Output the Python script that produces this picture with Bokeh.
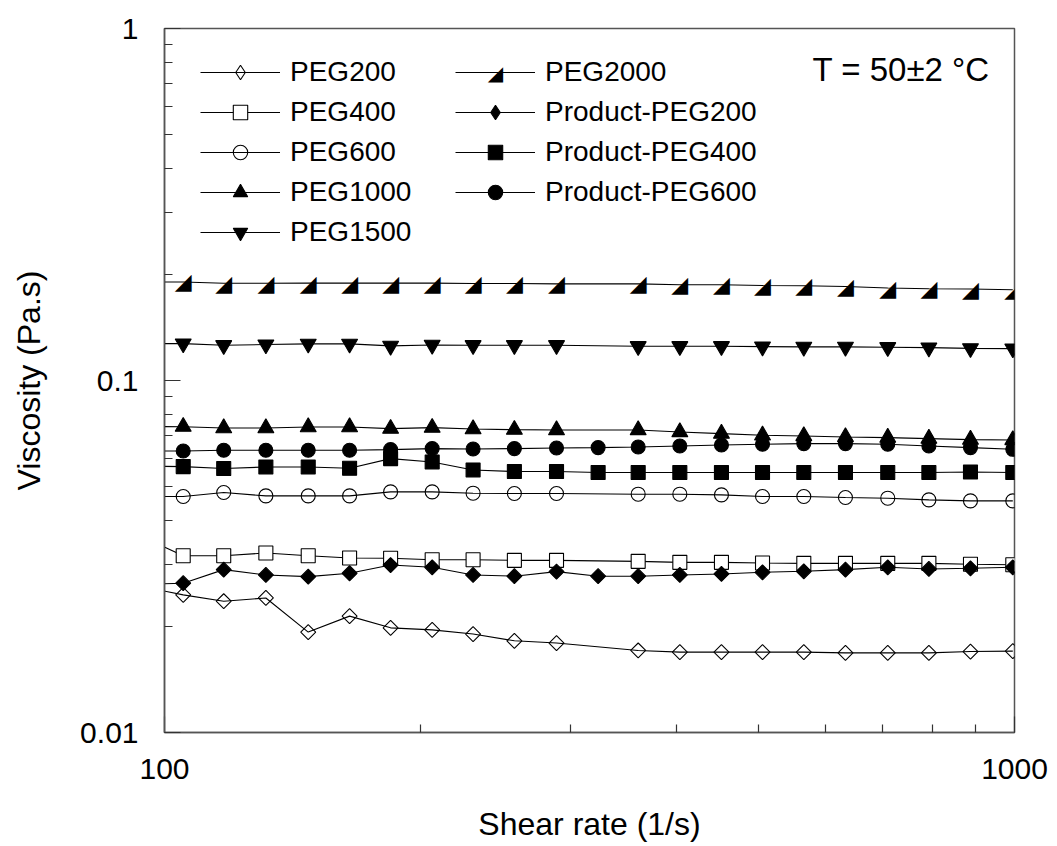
from bokeh.plotting import figure
from bokeh.models import (Range1d, FixedTicker, CustomJSTickFormatter, Legend, LegendItem,
                          Label, ColumnDataSource, CDSView, IndexFilter)
from bokeh.core.properties import value
from bokeh.embed import file_html
from bokeh.resources import INLINE
import numpy as np

# ---------------- data ----------------
shear_peg = [94.0, 105.2, 117.4, 131.6, 147.6, 165.1, 184.5, 206.5, 230.7, 258.0, 289.2,
             360.8, 403.9, 452.1, 505.3, 565.1, 632.6, 709.4, 793.0, 887.6, 995.4]
shear_product = [94.0, 105.2, 117.4, 131.6, 147.6, 165.1, 184.5, 206.5, 230.7, 258.0, 289.2,
                 323.7, 360.8, 403.9, 452.1, 505.3, 565.1, 632.6, 709.4, 793.0, 887.6, 995.4]

peg200 = [0.0260, 0.02460, 0.02360, 0.02411, 0.01929, 0.02141, 0.01983, 0.01957, 0.01904, 0.01822, 0.01795,
          0.01710, 0.01692, 0.01692, 0.01692, 0.01692, 0.01684, 0.01684, 0.01684, 0.01698, 0.01703]
peg400 = [0.03598, 0.03179, 0.03179, 0.03236, 0.03179, 0.03131, 0.03125, 0.03097, 0.03097, 0.03084, 0.03084,
          0.03064, 0.03044, 0.03044, 0.03030, 0.03024, 0.03024, 0.03024, 0.03024, 0.03005, 0.02997]
peg600 = [0.04682, 0.04682, 0.04806, 0.04701, 0.04701, 0.04701, 0.04825, 0.04825, 0.04785, 0.04775, 0.04775,
          0.04754, 0.04754, 0.04732, 0.04682, 0.04682, 0.04652, 0.04631, 0.04580, 0.04550, 0.04550]
peg1000 = [0.0740, 0.07393, 0.07326, 0.07326, 0.07374, 0.07374, 0.07298, 0.07345, 0.07278, 0.07250, 0.07232,
           0.07232, 0.07138, 0.07064, 0.06987, 0.06955, 0.06910, 0.06883, 0.06838, 0.06794, 0.06776]
peg1500 = [0.1273, 0.1273, 0.1259, 0.1265, 0.1271, 0.1271, 0.1254, 0.1262, 0.1259, 0.1259, 0.1259,
           0.1251, 0.1251, 0.1251, 0.1248, 0.1246, 0.1246, 0.1243, 0.1240, 0.1234, 0.1232]
peg2000 = [0.1905, 0.1905, 0.1889, 0.1889, 0.1891, 0.1891, 0.1891, 0.1891, 0.1886, 0.1886, 0.1882,
           0.1882, 0.1871, 0.1871, 0.1862, 0.1858, 0.1850, 0.1831, 0.1822, 0.1819, 0.1810]
prod_peg200 = [0.02634, 0.02655, 0.02902, 0.02803, 0.02772, 0.02834, 0.02991, 0.02947, 0.02803, 0.02780, 0.02864,
               0.02780, 0.02780, 0.02803, 0.02821, 0.02852, 0.02871, 0.02902, 0.02947, 0.02915, 0.02928, 0.02947]
prod_peg400 = [0.0571, 0.05694, 0.05622, 0.05680, 0.05680, 0.05632, 0.06000, 0.05869, 0.05570, 0.05513, 0.05513,
               0.05476, 0.05476, 0.05476, 0.05476, 0.05476, 0.05476, 0.05476, 0.05476, 0.05476, 0.05497, 0.05476]
prod_peg600 = [0.0631, 0.06306, 0.06335, 0.06335, 0.06335, 0.06335, 0.06364, 0.06405, 0.06389, 0.06405, 0.06431,
               0.06447, 0.06473, 0.06516, 0.06559, 0.06589, 0.06619, 0.06619, 0.06589, 0.06516, 0.06447, 0.06376]

x_major = [100, 1000]
y_major = [0.01, 0.1, 1]
x_label = "Shear rate (1/s)"
y_label = "Viscosity (Pa.s)"
note = "T = 50\u00b12 \u00b0C"
HALF_TRI = "\u25e2"

FONT = "Liberation Sans"

p = figure(width=1048, height=844, x_axis_type="log", y_axis_type="log",
           x_range=Range1d(100, 1000), y_range=Range1d(0.01, 1),
           output_backend="svg", toolbar_location=None,
           min_border_left=164, min_border_right=34, min_border_top=28, min_border_bottom=110)
p.xgrid.visible = False
p.ygrid.visible = False
p.outline_line_color = "#555555"
p.outline_line_width = 1.5
p.background_fill_color = "white"
p.border_fill_color = "white"

x_minor = [m * 100 for m in range(2, 10)]
y_minor = [m * d for d in (0.01, 0.1) for m in range(2, 10)]
p.xaxis.ticker = FixedTicker(ticks=x_major, minor_ticks=x_minor)
p.yaxis.ticker = FixedTicker(ticks=y_major, minor_ticks=y_minor)
fmt = CustomJSTickFormatter(code="return tick.toString()")
for ax in (p.xaxis[0], p.yaxis[0]):
    ax.formatter = fmt
    ax.major_tick_in = 16
    ax.major_tick_out = 0
    ax.minor_tick_in = 8
    ax.minor_tick_out = 0
    ax.axis_line_color = "#555555"
    ax.axis_line_width = 1.5
    ax.major_tick_line_color = "#333333"
    ax.minor_tick_line_color = "#333333"
    ax.major_tick_line_width = 1.2
    ax.minor_tick_line_width = 1.2
    ax.major_label_text_font = FONT
    ax.major_label_text_font_size = "30px"
    ax.major_label_text_color = "black"
    ax.axis_label_text_font = FONT
    ax.axis_label_text_font_size = "32px"
    ax.axis_label_text_font_style = "normal"
    ax.axis_label_text_color = "black"
p.xaxis.axis_label = x_label
p.yaxis.axis_label = y_label
p.xaxis.major_label_standoff = 26
p.xaxis.axis_label_standoff = 24
p.yaxis.major_label_standoff = 26
p.yaxis.axis_label_standoff = 30

def series(xs, ys, marker=None, size=14, fill="black", angle=0.0):
    src = ColumnDataSource(dict(x=xs, y=ys))
    ln = p.line("x", "y", source=src, line_color="black", line_width=1.1)
    rs = [ln]
    if marker is not None:
        mk = p.scatter("x", "y", source=src, marker=marker, size=size, angle=angle,
                       line_color="black", line_width=1.1,
                       fill_color=fill, fill_alpha=1.0 if fill else 0.0)
        rs.append(mk)
    return rs, src

def legend_marker(src, marker, fill):
    # legend sample: only the first point, which lies left of the x range (clipped)
    return p.scatter("x", "y", source=src, view=CDSView(filter=IndexFilter(indices=[0])),
                     marker=marker, size=14, line_color="black", line_width=1.1,
                     fill_color=fill, fill_alpha=1.0 if fill else 0.0)

r_peg200, s_peg200 = series(shear_peg, peg200, "square", 10.6, None, np.pi / 4)
r_peg400, _ = series(shear_peg, peg400, "square", 14, "white")
r_peg600, _ = series(shear_peg, peg600, "circle", 14, None)
r_peg1000, _ = series(shear_peg, peg1000, "triangle", 16, "black")
r_peg1500, _ = series(shear_peg, peg1500, "inverted_triangle", 16, "black")
r_peg2000, _ = series(shear_peg, peg2000)
half_src = ColumnDataSource(dict(x=shear_peg, y=peg2000, t=[HALF_TRI] * len(shear_peg)))
half = p.text("x", "y", text="t", source=half_src, text_align="center", text_baseline="middle",
              text_font=value("DejaVu Sans"), text_font_size="22px", text_color="black")
r_p200, s_p200 = series(shear_product, prod_peg200, "square", 10.6, "black", np.pi / 4)
r_p400, _ = series(shear_product, prod_peg400, "square", 14, "black")
r_p600, _ = series(shear_product, prod_peg600, "circle", 14, "black")

lg_peg200 = [r_peg200[0], legend_marker(s_peg200, "diamond", None)]
lg_p200 = [r_p200[0], legend_marker(s_p200, "diamond", "black")]

def make_legend(items, loc):
    lg = Legend(items=[LegendItem(label=l, renderers=rs) for l, rs in items], location=loc,
                orientation="vertical", border_line_color=None, background_fill_alpha=0.0,
                padding=0, margin=0, spacing=0, glyph_width=80, glyph_height=36,
                label_height=40, label_standoff=10,
                label_text_font=FONT, label_text_font_size="28px", label_text_color="black")
    return lg

leg1 = make_legend([("PEG200", lg_peg200), ("PEG400", r_peg400), ("PEG600", r_peg600),
                    ("PEG1000", r_peg1000), ("PEG1500", r_peg1500)], (36, 480))
leg2 = make_legend([("PEG2000", r_peg2000), ("Product-PEG200", lg_p200),
                    ("Product-PEG400", r_p400), ("Product-PEG600", r_p600)], (291, 520))
p.add_layout(leg1, "center")
p.add_layout(leg2, "center")

# half-filled triangle sample for the PEG2000 legend entry
p.add_layout(Label(x=331, y=660, x_units="screen", y_units="screen", text=HALF_TRI,
                   text_font="DejaVu Sans", text_font_size="20px", text_align="center",
                   text_baseline="middle", text_color="black"))

p.add_layout(Label(x=648, y=663, x_units="screen", y_units="screen", text=note,
                   text_font=FONT, text_font_size="33px", text_baseline="middle",
                   text_color="black"))

open("out.html", "w").write(file_html(p, INLINE))
